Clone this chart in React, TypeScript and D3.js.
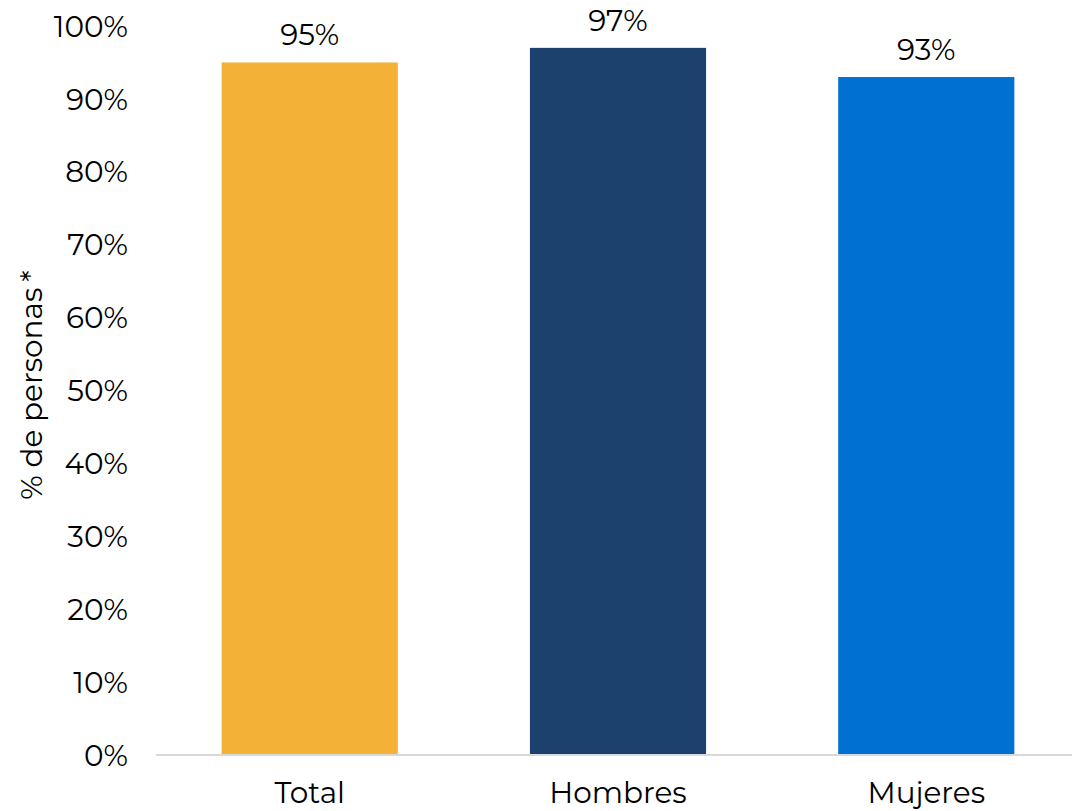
import React from "react";
import * as d3 from "d3";

const categories = ["Total", "Hombres", "Mujeres"];
const values = [95, 97, 93];
const colors = ["#F3B237", "#1B416C", "#0070D1"];
const yTicks = [0, 10, 20, 30, 40, 50, 60, 70, 80, 90, 100];
const yTitleMain = "% de personas";
const yTitleMark = "*";

export default function App() {
  const W = 1072, H = 811;
  const font = "Montserrat, 'Open Sans', Lato, sans-serif";
  const x = d3.scaleBand<string>().domain(categories).range([160, 1076]).paddingInner(0.4286).paddingOuter(0.2);
  const y = d3.scaleLinear().domain([0, 100]).range([755, 26]);
  const fs = 29.5;
  return (
    <svg width={W} height={H} style={{ position: "absolute", left: 0, top: 0, background: "#fff" }} fontFamily={font}>
      {yTicks.map((t) => (
        <text key={t} x={128} y={y(t)} dy="0.36em" textAnchor="end" fontSize={fs} fill="#000">
          {t}%
        </text>
      ))}
      {categories.map((c, i) => (
        <g key={c}>
          <rect x={x(c)} y={y(values[i])} width={x.bandwidth()} height={y(0) - y(values[i])} fill={colors[i]} />
          <text x={(x(c) ?? 0) + x.bandwidth() / 2} y={y(values[i]) - 17} textAnchor="middle" fontSize={fs} fill="#000">
            {values[i]}%
          </text>
          <text x={(x(c) ?? 0) + x.bandwidth() / 2} y={803} textAnchor="middle" fontSize={fs} fill="#000">
            {c}
          </text>
        </g>
      ))}
      <line x1={156} x2={1072} y1={y(0)} y2={y(0)} stroke="#D9D9D9" strokeWidth={2} />
      <text transform={`translate(42,${385}) rotate(-90)`} textAnchor="middle" fontSize={fs} fill="#000">
        {yTitleMain}
        <tspan dx={6}>{yTitleMark}</tspan>
      </text>
    </svg>
  );
}
